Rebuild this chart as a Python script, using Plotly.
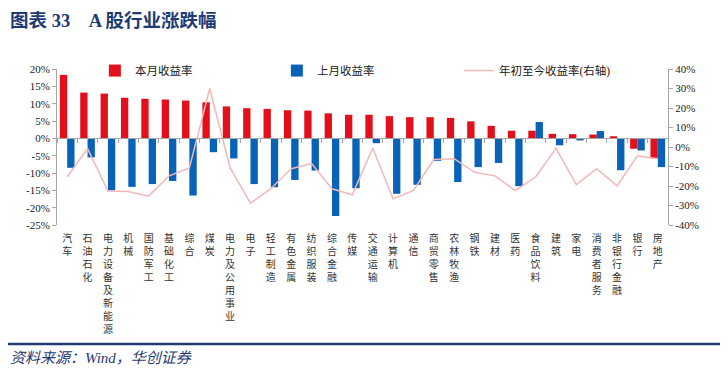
import plotly.graph_objects as go

categories = ["汽车", "石油石化", "电力设备及新能源", "机械", "国防军工", "基础化工", "综合", "煤炭",
              "电力及公用事业", "电子", "轻工制造", "有色金属", "纺织服装", "综合金融", "传媒", "交通运输",
              "计算机", "通信", "商贸零售", "农林牧渔", "钢铁", "建材", "医药", "食品饮料", "建筑", "家电",
              "消费者服务", "非银行金融", "银行", "房地产"]
this_month = [18.3, 13.2, 12.9, 11.7, 11.4, 11.2, 10.9, 10.4, 9.2, 8.7, 8.5, 8.1, 8.0, 7.2, 6.8, 6.8,
              6.4, 6.1, 6.1, 5.9, 4.9, 3.6, 2.2, 2.2, 1.3, 1.2, 1.1, 0.6, -3.0, -5.8]
last_month = [-8.5, -5.5, -15.0, -14.0, -13.2, -12.3, -16.5, -4.0, -5.8, -13.2, -14.1, -12.0, -9.3, -22.4,
              -14.4, -1.4, -16.0, -13.4, -6.5, -12.6, -8.3, -7.1, -13.8, 4.7, -2.0, -0.6, 2.1, -9.2, -3.5, -8.3]
ytd = [-15.4, -0.8, -22.6, -22.8, -25.2, -14.8, -10.7, 30.0, -10.7, -28.8, -21.4, -11.1, -8.5, -21.4,
       -24.5, -0.5, -26.6, -22.3, -6.4, -6.0, -13.0, -14.8, -22.3, -15.4, -0.7, -19.3, -11.1, -19.9, -4.5, -6.0]
left_ticks = [20, 15, 10, 5, 0, -5, -10, -15, -20, -25]
right_ticks = [40, 30, 20, 10, 0, -10, -20, -30, -40]

tick_text = ["<br>".join(list(c)) for c in categories]

FONT = "Liberation Serif, Noto Sans CJK SC, serif"
AXIS_COLOR = "#A6A6A6"
NAVY = "#1F3B73"

fig = go.Figure()
fig.add_trace(go.Bar(x=categories, y=this_month, name="本月收益率", marker_color="#E3101B",
                     marker_line_width=0, yaxis="y"))
fig.add_trace(go.Bar(x=categories, y=last_month, name="上月收益率", marker_color="#0862B8",
                     marker_line_width=0, yaxis="y"))
fig.add_trace(go.Scatter(x=categories, y=ytd, name="年初至今收益率(右轴)", mode="lines",
                         line=dict(color="#F2B8B8", width=1.5), yaxis="y2"))
# invisible helper trace for the zero-line axis with category ticks
fig.add_trace(go.Scatter(x=categories, y=[None] * len(categories), xaxis="x2", yaxis="y",
                         showlegend=False, hoverinfo="skip"))

zero_pos = 25 / 45.0

# page body has an 8px margin; plot area in page coords is x 57..668, y 69..225
fig.update_layout(
    width=728, height=377,
    margin=dict(l=49, r=68, t=61, b=160, autoexpand=False),
    paper_bgcolor="white", plot_bgcolor="white",
    font=dict(family=FONT, size=11, color="#222222"),
    barmode="group", bargap=0.28, bargroupgap=0,
    showlegend=True,
    legend=dict(orientation="h", x=0.062, y=1.083, xanchor="left", yanchor="top",
                entrywidth=137, entrywidthmode="pixels",
                font=dict(family=FONT, size=11.5, color="#222222"),
                bgcolor="rgba(0,0,0,0)", itemwidth=30, tracegroupgap=0),
    xaxis=dict(type="category", tickmode="array", tickvals=categories, ticktext=tick_text,
               showline=False, ticks="outside", ticklen=4, tickcolor="rgba(0,0,0,0)",
               showgrid=False, zeroline=False,
               tickfont=dict(family=FONT, size=10, color="#333333"), tickangle=0),
    xaxis2=dict(type="category", matches="x", overlaying="x", anchor="free", position=zero_pos,
                showticklabels=False, ticks="outside", ticklen=4, tickcolor=AXIS_COLOR,
                tickson="boundaries", showline=True, linecolor=AXIS_COLOR, linewidth=1,
                showgrid=False, zeroline=False),
    yaxis=dict(range=[-25, 20], tickmode="array", tickvals=left_ticks,
               ticktext=[f"{v}%" for v in left_ticks], showgrid=False, zeroline=False,
               showline=True, linecolor=AXIS_COLOR, ticks="outside", ticklen=4, tickcolor=AXIS_COLOR,
               tickfont=dict(family=FONT, size=11, color="#222222")),
    yaxis2=dict(range=[-40, 40], tickmode="array", tickvals=right_ticks,
                ticktext=[f"{v}%" for v in right_ticks], overlaying="y", side="right",
                showgrid=False, zeroline=False, showline=True, linecolor=AXIS_COLOR,
                ticks="outside", ticklen=4, tickcolor=AXIS_COLOR,
                tickfont=dict(family=FONT, size=11, color="#222222")),
)

fig.add_annotation(text="<b>图表 33&nbsp;&nbsp;&nbsp;&nbsp;A 股行业涨跌幅</b>", xref="paper", yref="paper",
                   x=(8 - 57) / 611, y=(225 - 20) / 156, xanchor="left", yanchor="middle",
                   showarrow=False, font=dict(family=FONT, size=18.5, color=NAVY))
fig.add_shape(type="line", xref="paper", yref="paper",
              x0=(8 - 57) / 611, x1=(720 - 57) / 611, y0=(225 - 344) / 156, y1=(225 - 344) / 156,
              line=dict(color=NAVY, width=2.5))
fig.add_annotation(text="<i>资料来源：Wind，华创证券</i>", xref="paper", yref="paper",
                   x=(8 - 57) / 611, y=(225 - 358) / 156, xanchor="left", yanchor="middle",
                   showarrow=False, font=dict(family=FONT, size=15, color=NAVY))

fig.write_html("out.html")
